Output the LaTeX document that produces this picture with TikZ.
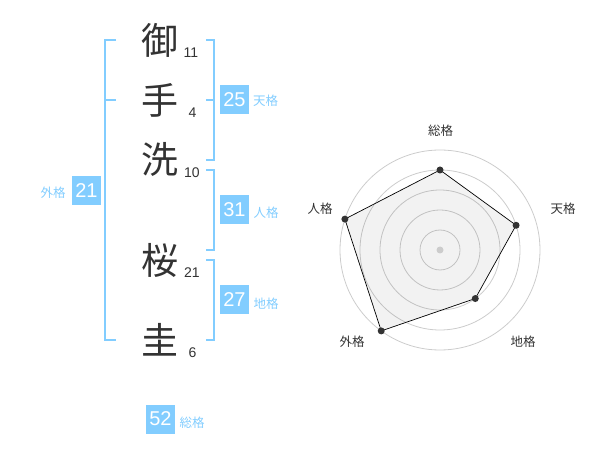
\documentclass[tikz,border=0pt]{standalone}
\usepackage{fontspec}
\setmainfont{Liberation Sans}
\newfontfamily\cjk{Noto Sans CJK JP}
\definecolor{sky}{HTML}{82CDFF}
\definecolor{ink}{HTML}{333333}
\definecolor{ringc}{HTML}{CCCCCC}
\begin{document}
\begin{tikzpicture}[x=1pt,y=-1pt,
  kanji/.style={font=\cjk\fontsize{37}{37}\selectfont, text=ink, inner sep=0},
  strokes/.style={font=\fontsize{14}{14}\selectfont, text=ink, inner sep=0},
  numbox/.style={fill=sky, text=white, minimum width=29pt, minimum height=29pt, inner sep=0, font=\fontsize{20}{20}\selectfont},
  ktag/.style={text=sky, font=\cjk\fontsize{12.5}{12.5}\selectfont, inner sep=0},
  brk/.style={draw=sky, line width=2pt},
  axislab/.style={text=ink, font=\cjk\fontsize{12.5}{12.5}\selectfont, inner sep=0},
  ring/.style={draw=ringc, line width=0.8pt},
  poly/.style={draw=black, line width=0.7pt, fill=black, fill opacity=0.05},
  vdot/.style={fill=ink}
]
\useasboundingbox (0,0) rectangle (600,470);

% characters
\node[kanji] (c1) at (160,40) {御};
\node[kanji] (c2) at (160,100) {手};
\node[kanji] (c3) at (160,159) {洗};
\node[kanji] (c4) at (160,260) {桜};
\node[kanji] (c5) at (160,340) {圭};

% stroke counts
\node[strokes] (n1) at (191,53) {11};
\node[strokes] (n2) at (192.5,113) {4};
\node[strokes] (n3) at (192,173) {10};
\node[strokes] (n4) at (192,272.5) {21};
\node[strokes] (n5) at (192.5,352.5) {6};

% brackets
\draw[brk] (116,40) -- (105,40) -- (105,340) -- (116,340);
\draw[brk] (105,100) -- (116,100);
\draw[brk] (206,40) -- (214,40) -- (214,160) -- (206,160);
\draw[brk] (206,100) -- (214,100);
\draw[brk] (206,170) -- (214,170) -- (214,250) -- (206,250);
\draw[brk] (206,260) -- (214,260) -- (214,340) -- (206,340);

% boxes and tags
\node[numbox] (b25) at (234.5,100) {25};
\node[ktag] (t25) at (265.5,101) {天格};
\node[numbox] (b31) at (234.5,209.5) {31};
\node[ktag] (t31) at (266,213) {人格};
\node[numbox] (b27) at (234.5,300) {27};
\node[ktag] (t27) at (266,303.5) {地格};
\node[numbox] (b21) at (86.5,190.5) {21};
\node[ktag] (t21) at (53,193) {外格};
\node[numbox] (b52) at (160.5,419) {52};
\node[ktag] (t52) at (192,422.5) {総格};

% radar
\begin{scope}[shift={(440,250)}, yscale=-1]
  \foreach \r in {20,40,60,80,100} \draw[ring] (0,0) circle[radius=\r pt];
  \coordinate (p1) at (90:80);
  \coordinate (p2) at (18:80);
  \coordinate (p3) at (-54:60);
  \coordinate (p4) at (-126:100);
  \coordinate (p5) at (162:100);
  \coordinate (ctr) at (0,0);
  \draw[poly] (p1) -- (p2) -- (p3) -- (p4) -- (p5) -- cycle;
  \foreach \p in {p1,p2,p3,p4,p5} \fill[vdot] (\p) circle[radius=3.5pt];
  \fill[ringc] (ctr) circle[radius=3.5pt];
\end{scope}

\node[axislab] (a1) at (440.5,130.5) {総格};
\node[axislab] (a2) at (563,209) {天格};
\node[axislab] (a3) at (523,342) {地格};
\node[axislab] (a4) at (352,342) {外格};
\node[axislab] (a5) at (320,209) {人格};
\end{tikzpicture}
\end{document}
